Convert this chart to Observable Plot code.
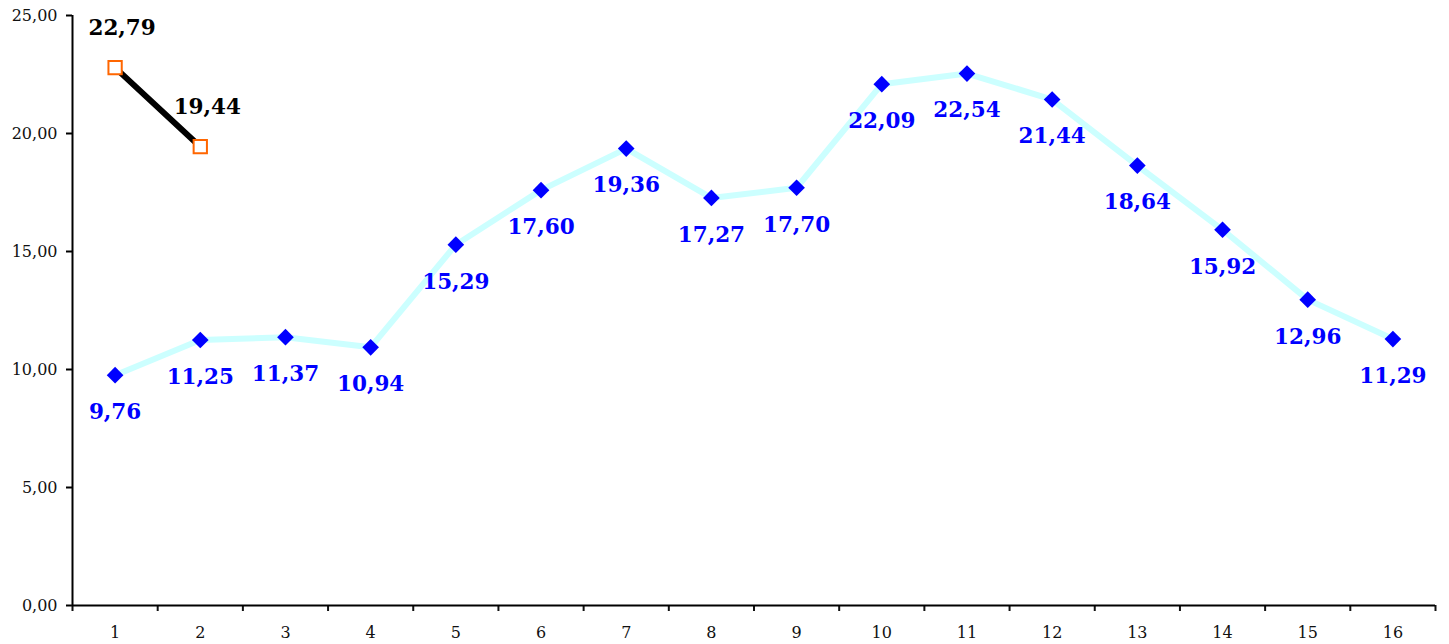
<!DOCTYPE html>
<html><head><meta charset="utf-8">
<script src="https://cdn.jsdelivr.net/npm/d3@7"></script>
<script src="https://cdn.jsdelivr.net/npm/@observablehq/plot@0.6"></script>
<style>body{margin:0;background:#fff}</style>
</head><body><div id="chart"></div>
<script>
const categories = [1,2,3,4,5,6,7,8,9,10,11,12,13,14,15,16];
const seriesBlue = [9.76,11.25,11.37,10.94,15.29,17.60,19.36,17.27,17.70,22.09,22.54,21.44,18.64,15.92,12.96,11.29];
const seriesBlackX = [1,2];
const seriesBlack = [22.79,19.44];
const yTicks = [0,5,10,15,20,25];

const fmt = d => d.toFixed(2).replace(".", ",");
const blue = categories.map((c,i)=>({x:c, y:seriesBlue[i]}));
const black = seriesBlackX.map((c,i)=>({x:c, y:seriesBlack[i]}));
const bounds = [categories[0]-0.5, ...categories.map(c=>c+0.5)];

const chart = Plot.plot({
  width: 1449, height: 644,
  marginLeft: 72, marginRight: 14, marginTop: 15, marginBottom: 39,
  style: {fontFamily: "DejaVu Serif", fontSize: "16px", background: "#fff", color: "#111"},
  x: {domain: [0.5, 16.5]},
  y: {domain: [0, 25]},
  marks: [
    Plot.axisY({ticks: yTicks, tickFormat: fmt, tickSize: 6, tickPadding: 9, fontSize: 16, stroke: "#000", strokeWidth: 2, label: null}),
    Plot.axisX({ticks: bounds, tickFormat: () => "", tickSize: 6, strokeWidth: 2, label: null}),
    Plot.axisX({ticks: categories, tickFormat: d => String(d), tickSize: 0, tickPadding: 21, fontSize: 16, label: null}),
    Plot.ruleY([0], {stroke: "#000", strokeWidth: 2}),
    Plot.ruleX([0.5], {stroke: "#000", strokeWidth: 2}),
    Plot.line(blue, {x: "x", y: "y", stroke: "#ccffff", strokeWidth: 6}),
    Plot.dot(blue, {x: "x", y: "y", symbol: "diamond2", r: 7.5, fill: "#0000ff", stroke: "none"}),
    Plot.text(blue, {x: "x", y: "y", text: d => fmt(d.y), dy: 37, fill: "#0000ff", fontSize: 21.5, fontWeight: "bold"}),
    Plot.line(black, {x: "x", y: "y", stroke: "#000", strokeWidth: 6}),
    Plot.dot(black, {x: "x", y: "y", symbol: "square", r: 7.5, fill: "#fff", stroke: "#ff6600", strokeWidth: 2}),
    Plot.text(black, {x: "x", y: "y", text: d => fmt(d.y), dy: -40, dx: 7, fill: "#000", fontSize: 21.5, fontWeight: "bold"})
  ]
});
document.getElementById("chart").appendChild(chart);
</script></body></html>
